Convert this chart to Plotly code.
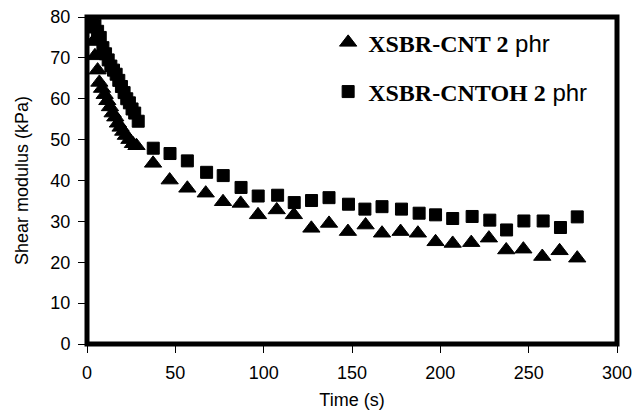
import plotly.graph_objects as go

# XSBR-CNT 2 phr (triangles)
time_cnt = [2, 3.5, 4.5, 6, 7, 8.5, 10, 11.5, 13, 14.5, 16, 17.5, 19, 20.5, 22, 24, 26, 28,
            37.4, 46.8, 56.8, 67.2, 77, 87, 96.8, 107.4, 117.1, 127, 137, 147.7, 157.7, 167,
            177.5, 187.3, 197.3, 207, 217.5, 227.5, 237.3, 247, 257.7, 267.5, 277.5]
modulus_cnt = [77, 74, 70.5, 67, 64, 62.5, 61, 59.5, 58, 56.5, 55.5, 54, 53, 52, 51, 50, 49, 48.5,
               44.2, 40.1, 38.1, 36.9, 34.8, 34.4, 31.6, 32.8, 31.6, 28.3, 29.5, 27.5, 29.1, 27.1,
               27.5, 27.1, 25.0, 24.6, 24.8, 25.9, 23.0, 23.2, 21.4, 22.8, 21.0]

# XSBR-CNTOH 2 phr (squares)
time_oh = [3, 4.5, 6, 7.5, 9, 10.5, 12, 13.5, 15, 16.5, 18, 19.5, 21, 22.5, 24, 25.5, 27, 29,
           37.5, 47, 56.8, 67.7, 77.1, 87.2, 96.9, 107.9, 117.3, 127.1, 137, 148, 157.3, 167,
           178, 188, 197.3, 207, 218, 228, 237.5, 247.3, 258.2, 268, 277.5]
modulus_oh = [79, 78, 76.5, 75, 72.5, 71, 69.5, 68, 67, 66, 64.5, 63, 61.5, 60, 59, 57.5, 56.5, 54.5,
              47.9, 46.6, 44.8, 42.0, 41.2, 38.3, 36.2, 36.4, 34.6, 35.1, 35.8, 34.2, 33.0, 33.6,
              33.0, 32.0, 31.6, 30.7, 31.2, 30.3, 27.9, 30.1, 30.1, 28.5, 31.1]

x_ticks = [0, 50, 100, 150, 200, 250, 300]
y_ticks = [0, 10, 20, 30, 40, 50, 60, 70, 80]

SERIF = "Liberation Serif"
SANS = "Liberation Sans"


def legend_label(main):
    return (f'<span style="font-family:{SERIF};font-weight:bold">{main}</span>'
            f'<span style="font-family:{SANS}"> phr</span>')


fig = go.Figure()
fig.add_trace(go.Scatter(
    x=time_cnt, y=modulus_cnt, mode="markers",
    name=legend_label("XSBR-CNT 2"),
    legendgroup="a",
    marker=dict(symbol="triangle-up", size=15, color="black",
                line=dict(color="black", width=1)),
))
fig.add_trace(go.Scatter(
    x=time_oh, y=modulus_oh, mode="markers",
    name=legend_label("XSBR-CNTOH 2"),
    legendgroup="b",
    marker=dict(symbol="square", size=12, color="black",
                line=dict(color="black", width=1)),
))

fig.add_shape(type="rect", xref="paper", yref="paper", x0=0, x1=1, y0=0, y1=1,
              line=dict(color="black", width=5), layer="above")

axis_common = dict(
    showgrid=False, zeroline=False, showline=False, automargin=False,
    ticks="outside", ticklen=8, tickwidth=1, tickcolor="black",
    tickfont=dict(family=SANS, size=18, color="black"),
    ticklabelstandoff=4,
)

fig.update_layout(
    width=633, height=410,
    margin=dict(l=87, r=16, t=17, b=66, autoexpand=False),
    paper_bgcolor="white", plot_bgcolor="white",
    font=dict(family=SANS, color="black"),
    xaxis=dict(range=[0, 300], tickvals=x_ticks,
               title=dict(text="Time (s)", font=dict(family=SANS, size=18), standoff=20),
               **axis_common),
    yaxis=dict(range=[0, 80], tickvals=y_ticks,
               title=dict(text="Shear modulus (kPa)", font=dict(family=SANS, size=18), standoff=17),
               **axis_common),
    legend=dict(x=0.455, y=0.99, xanchor="left", yanchor="top",
                bgcolor="rgba(0,0,0,0)", font=dict(family=SANS, size=24, color="black"),
                tracegroupgap=15, itemwidth=30),
    showlegend=True,
)

fig.write_html("out.html")
